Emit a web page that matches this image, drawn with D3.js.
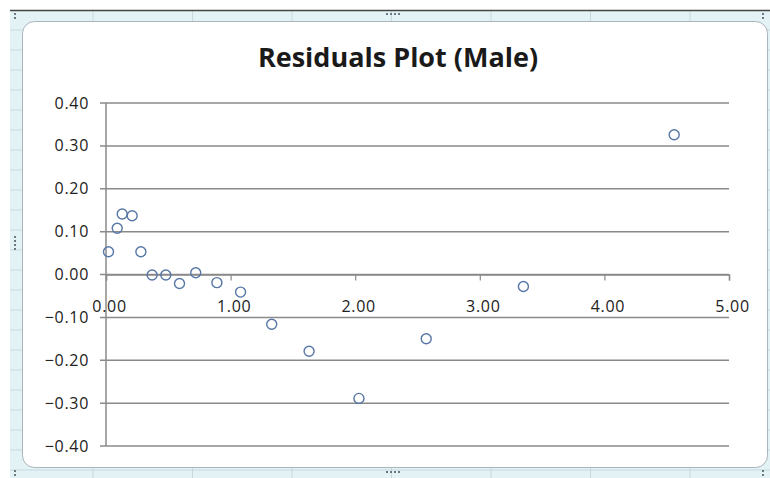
<!DOCTYPE html>
<html>
<head>
<meta charset="utf-8">
<script src="https://cdnjs.cloudflare.com/ajax/libs/d3/7.8.5/d3.min.js"></script>
<style>
  body { margin: 0; background: #fff; }
  svg { display: block; }
</style>
</head>
<body>
<div id="chart"></div>
<script>
// residuals
const xValues = [0.02, 0.09, 0.13, 0.21, 0.28, 0.37, 0.48, 0.59, 0.72, 0.89, 1.08, 1.33, 1.63, 2.03, 2.57, 3.35, 4.56];
const residuals = [0.053, 0.108, 0.141, 0.137, 0.053, -0.001, -0.001, -0.021, 0.004, -0.019, -0.041, -0.116, -0.179, -0.289, -0.150, -0.028, 0.326];
const xTicks = [0, 1, 2, 3, 4, 5];
const yTicks = [-0.4, -0.3, -0.2, -0.1, 0, 0.1, 0.2, 0.3, 0.4];
const title = "Residuals Plot (Male)";

const W = 770, H = 478;
const svg = d3.select("#chart").append("svg")
    .attr("width", W)
    .attr("height", H);

// spreadsheet behind the chart
svg.append("rect")
    .attr("x", 10).attr("y", 10)
    .attr("width", W - 10).attr("height", H - 10)
    .attr("fill", "#e3f2f4");
const cols = d3.range(93, W, 99.5);
svg.selectAll(".col").data(cols).enter().append("line")
    .attr("x1", d => d).attr("x2", d => d)
    .attr("y1", 10).attr("y2", H)
    .attr("stroke", "#c6dadd");
const rows = d3.range(30, H, 20);
svg.selectAll(".row").data(rows).enter().append("line")
    .attr("x1", 10).attr("x2", W)
    .attr("y1", d => d).attr("y2", d => d)
    .attr("stroke", "#c6dadd");
svg.append("line")
    .attr("x1", 10).attr("x2", W)
    .attr("y1", 10.5).attr("y2", 10.5)
    .attr("stroke", "#444").attr("stroke-width", 1.5);

// chart frame
svg.append("rect")
    .attr("x", 22.5).attr("y", 21.5)
    .attr("width", 745).attr("height", 446)
    .attr("rx", 12)
    .attr("fill", "#fff")
    .attr("stroke", "#aab4bb");

// selection handles
const handles = [[14, 13], [386, 13], [386, 471], [14, 470], [14, 236], [762, 470], [762, 13]];
handles.forEach(([hx, hy], i) => {
    const horiz = (i === 1 || i === 2);
    const n = horiz ? 4 : (i === 4 ? 4 : 2);
    for (let k = 0; k < n; k++) {
        svg.append("rect")
            .attr("x", horiz ? hx + k * 4 : hx)
            .attr("y", horiz ? hy : hy + k * 4)
            .attr("width", 2).attr("height", 2)
            .attr("fill", "#6a7a80");
    }
});

const x = d3.scaleLinear().domain([0, 5]).range([106, 729]);
const y = d3.scaleLinear().domain([-0.4, 0.4]).range([446, 103]);

const g = svg.append("g");

// horizontal gridlines with the left ticks
g.selectAll(".grid").data(yTicks).enter().append("line")
    .attr("x1", 100).attr("x2", x(5))
    .attr("y1", d => y(d)).attr("y2", d => y(d))
    .attr("stroke", "#8a8a8a").attr("stroke-width", 1.5);

// y axis line
g.append("line")
    .attr("x1", x(0)).attr("x2", x(0))
    .attr("y1", y(0.4)).attr("y2", y(-0.4))
    .attr("stroke", "#8a8a8a").attr("stroke-width", 1.5);

// y labels
g.selectAll(".ylab").data(yTicks).enter().append("text")
    .attr("x", 89)
    .attr("y", d => y(d) + 5.5)
    .attr("text-anchor", "end")
    .attr("font-family", "Open Sans, sans-serif")
    .attr("font-size", "16px")
    .attr("letter-spacing", "0.7px")
    .attr("fill", "#222")
    .text(d => d3.format(".2f")(d));

// x axis crosses at zero
const xAxis = d3.axisBottom(x)
    .tickValues(xTicks)
    .tickSize(6)
    .tickFormat(d3.format(".2f"));
const xg = g.append("g")
    .attr("transform", `translate(0, ${y(0)})`)
    .call(xAxis);
xg.select(".domain").attr("stroke", "#8a8a8a").attr("stroke-width", 1.5);
xg.selectAll(".tick line").attr("stroke", "#8a8a8a").attr("stroke-width", 1.2);
xg.selectAll(".tick text")
    .attr("y", 26)
    .attr("dy", "0.71em")
    .attr("dx", 3)
    .attr("font-family", "Open Sans, sans-serif")
    .attr("font-size", "16px")
    .attr("letter-spacing", "0.7px")
    .attr("fill", "#222");

// points
g.selectAll(".pt").data(xValues).enter().append("circle")
    .attr("cx", d => x(d))
    .attr("cy", (d, i) => y(residuals[i]))
    .attr("r", 5)
    .attr("fill", "none")
    .attr("stroke", "#5676a6")
    .attr("stroke-width", 1.4);

svg.append("text")
    .attr("x", 398)
    .attr("y", 67)
    .attr("text-anchor", "middle")
    .attr("font-family", "Open Sans, sans-serif")
    .attr("font-weight", "bold")
    .attr("font-size", "27px")
    .attr("fill", "#1a1a1a")
    .text(title);
</script>
</body>
</html>
